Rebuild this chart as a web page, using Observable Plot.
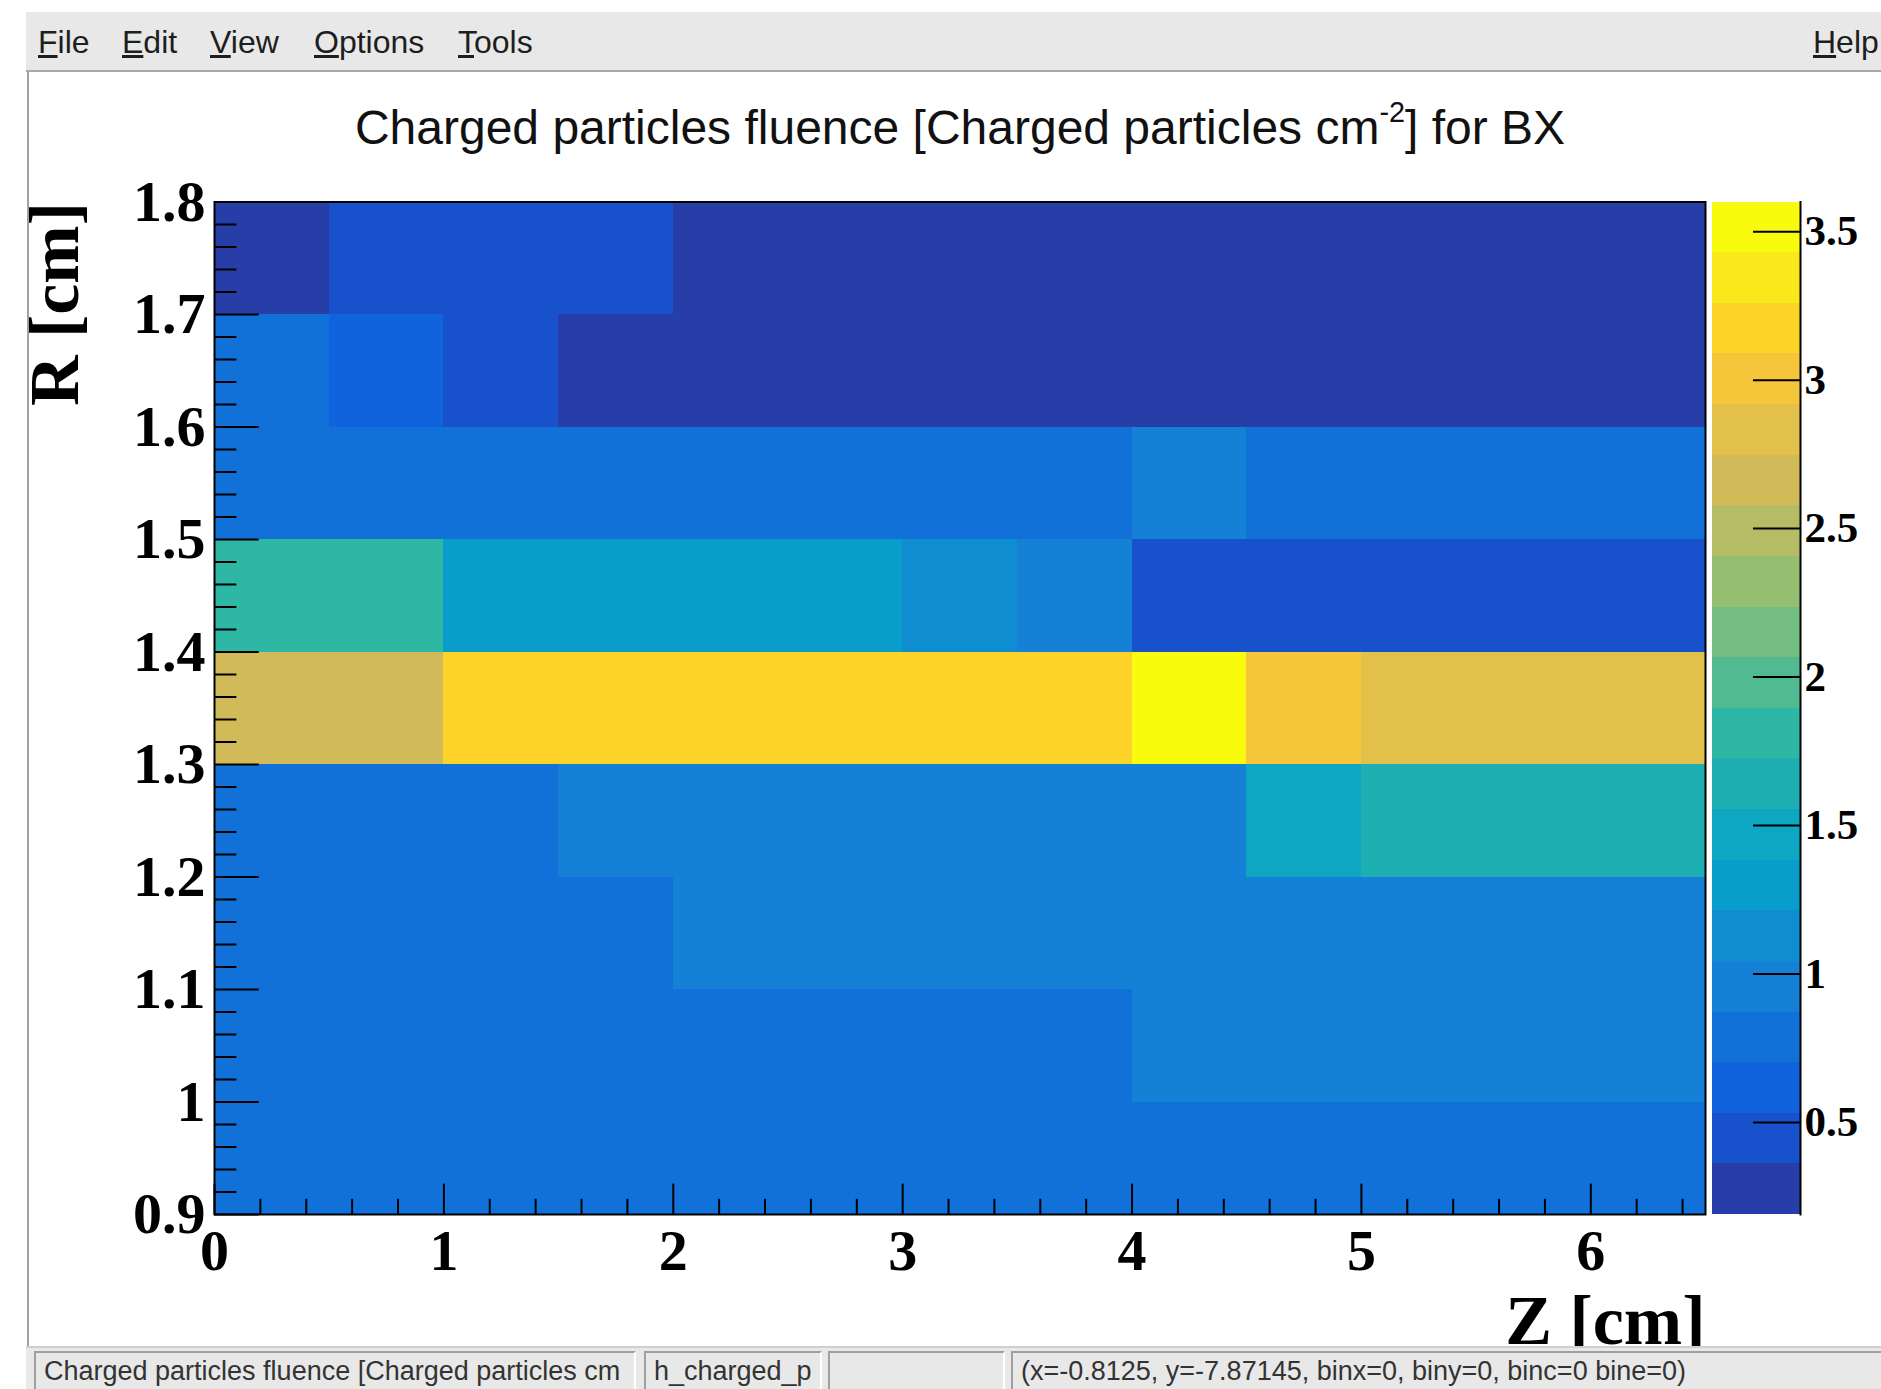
<!DOCTYPE html>
<html>
<head>
<meta charset="utf-8">
<script src="https://cdn.jsdelivr.net/npm/d3@7"></script>
<script src="https://cdn.jsdelivr.net/npm/@observablehq/plot@0.6"></script>
<style>
  body { margin: 0; width: 1881px; height: 1389px; overflow: hidden; position: relative; background: #fff;
         font-family: "Liberation Sans", Arial, sans-serif; }
  .menubar { position: absolute; left: 26px; top: 12px; width: 1855px; height: 58px; background: #e8e8e8;
             border-bottom: 2px solid #a8a8a8; }
  .menu { position: absolute; top: 26px; font-size: 32px; line-height: 32px; color: #1e1e1e; white-space: nowrap; }
  .edge { position: absolute; left: 27px; top: 72px; width: 2px; height: 1274px; background: #a0a0a0; z-index: 3; }
  .title { position: absolute; left: 960px; top: 104px; transform: translateX(-50%); font-size: 48px; line-height: 48px;
           white-space: nowrap; color: #111; z-index: 2; }
  .title sup { font-size: 0.6em; line-height: 0; vertical-align: 0.75em; }
  #plot, #palette { position: absolute; top: 72px; z-index: 1; }
  #plot { left: 0; }
  #palette { left: 1712px; }
  .status { position: absolute; left: 26px; top: 1346px; width: 1855px; height: 43px; background: #e8e8e8;
            border-top: 2px solid #cfcfcf; z-index: 4; }
  .box { position: absolute; top: 3px; height: 40px; box-sizing: border-box; border-top: 2px solid #a0a0a0;
         border-left: 2px solid #a0a0a0; border-right: 2px solid #ffffff; font-size: 27px; line-height: 36px;
         color: #333; white-space: nowrap; overflow: hidden; padding-left: 8px; }
</style>
</head>
<body>
<div class="menubar"></div>
<div class="menu" style="left:38px"><u>F</u>ile</div>
<div class="menu" style="left:122px"><u>E</u>dit</div>
<div class="menu" style="left:210px"><u>V</u>iew</div>
<div class="menu" style="left:314px"><u>O</u>ptions</div>
<div class="menu" style="left:458px"><u>T</u>ools</div>
<div class="menu" style="left:1813px"><u>H</u>elp</div>
<div class="edge"></div>
<div class="title">Charged particles fluence [Charged particles cm<sup>-2</sup>] for BX</div>
<div id="plot"></div>
<div id="palette"></div>
<div class="status">
  <div class="box" style="left:8px;width:602px">Charged particles fluence [Charged particles cm</div>
  <div class="box" style="left:618px;width:178px">h_charged_p</div>
  <div class="box" style="left:802px;width:177px"></div>
  <div class="box" style="left:985px;width:880px">(x=-0.8125, y=-7.87145, binx=0, biny=0, binc=0 bine=0)</div>
</div>
<script>
// ---- Data ----
// Bin edges
const zEdges = [0, 0.5, 1, 1.5, 2, 2.5, 3, 3.5, 4, 4.5, 5, 5.5, 6, 6.5];
const rEdges = [0.9, 1.0, 1.1, 1.2, 1.3, 1.4, 1.5, 1.6, 1.7, 1.8];
// Fluence per R bin (each array: Z bins 0-0.5 ... 6-6.5)
const fluence_R090 = [0.74, 0.75, 0.76, 0.77, 0.78, 0.79, 0.80, 0.81, 0.82, 0.83, 0.84, 0.85, 0.86];
const fluence_R100 = [0.78, 0.79, 0.80, 0.81, 0.82, 0.83, 0.84, 0.86, 0.88, 0.89, 0.90, 0.91, 0.92];
const fluence_R110 = [0.80, 0.82, 0.83, 0.85, 0.88, 0.90, 0.91, 0.92, 0.93, 0.94, 0.95, 0.96, 0.97];
const fluence_R120 = [0.82, 0.84, 0.86, 0.90, 0.92, 0.94, 0.96, 0.98, 1.00, 1.48, 1.62, 1.64, 1.66];
const fluence_R130 = [2.66, 2.70, 3.15, 3.18, 3.20, 3.21, 3.22, 3.24, 3.60, 3.02, 2.88, 2.83, 2.79];
const fluence_R140 = [1.86, 1.83, 1.33, 1.35, 1.34, 1.30, 1.15, 0.97, 0.48, 0.47, 0.45, 0.44, 0.43];
const fluence_R150 = [0.80, 0.82, 0.83, 0.84, 0.85, 0.85, 0.86, 0.86, 0.91, 0.84, 0.80, 0.78, 0.76];
const fluence_R160 = [0.76, 0.62, 0.48, 0.34, 0.31, 0.29, 0.28, 0.27, 0.26, 0.25, 0.24, 0.23, 0.22];
const fluence_R170 = [0.28, 0.45, 0.47, 0.43, 0.30, 0.27, 0.25, 0.24, 0.23, 0.22, 0.21, 0.20, 0.19];
const fluenceRows = [fluence_R090, fluence_R100, fluence_R110, fluence_R120, fluence_R130,
                     fluence_R140, fluence_R150, fluence_R160, fluence_R170];

// Axis ticks and labels
const zMajor = [0, 1, 2, 3, 4, 5, 6];
const zMinor = [0.2, 0.4, 0.6, 0.8, 1.2, 1.4, 1.6, 1.8, 2.2, 2.4, 2.6, 2.8, 3.2, 3.4, 3.6, 3.8,
                4.2, 4.4, 4.6, 4.8, 5.2, 5.4, 5.6, 5.8, 6.2, 6.4];
const rMajor = [0.9, 1, 1.1, 1.2, 1.3, 1.4, 1.5, 1.6, 1.7, 1.8];
const rMinor = rMajor.slice(0, -1).flatMap(v => [0.02, 0.04, 0.06, 0.08].map(d => +(v + d).toFixed(2)));
const paletteTicks = [0.5, 1, 1.5, 2, 2.5, 3, 3.5];
const paletteRange = [0.19, 3.60];   // colour axis extent
const nLevels = 20;                  // number of contour levels

// ---- ROOT kBird palette ----
const birdR = [0.2082, 0.0592, 0.0780, 0.0232, 0.1802, 0.5301, 0.8186, 0.9956, 0.9764];
const birdG = [0.1664, 0.3599, 0.5041, 0.6419, 0.7178, 0.7492, 0.7328, 0.7862, 0.9832];
const birdB = [0.5293, 0.8684, 0.8385, 0.7914, 0.6425, 0.4662, 0.3499, 0.1968, 0.0539];
function bird(t) {
  const s = t * 8, k = Math.min(7, Math.floor(s)), f = s - k;
  const c = a => Math.round(255 * (a[k] + (a[k + 1] - a[k]) * f));
  return d3.rgb(c(birdR), c(birdG), c(birdB)).formatHex();
}
const birdColors = d3.range(nLevels).map(i => bird(Math.floor((i + 0.99) * 255 / nLevels) / 254));
const step = (paletteRange[1] - paletteRange[0]) / nLevels;
const thresholds = d3.range(1, nLevels).map(k => paletteRange[0] + k * step);
const colorOpts = {type: "threshold", domain: thresholds, range: birdColors};

const cells = fluenceRows.flatMap((row, j) => row.map((v, i) => ({
  z1: zEdges[i], z2: zEdges[i + 1], r1: rEdges[j], r2: rEdges[j + 1], v
})));
const levels = d3.range(nLevels).map(i => ({
  lo: paletteRange[0] + i * step, hi: paletteRange[0] + (i + 1) * step, mid: paletteRange[0] + (i + 0.5) * step
}));

// ---- Layout ----
const W = 1881, H = 1274;
const mL = 214, mR = 176, mT = 129.5, mB = 132;
const innerW = W - mL - mR, innerH = H - mT - mB;
const serif = "Liberation Serif, Times New Roman, serif";
const ink = {stroke: "black", strokeWidth: 2};

const main = Plot.plot({
  width: W, height: H,
  marginLeft: mL, marginRight: mR, marginTop: mT, marginBottom: mB,
  style: {background: "transparent", overflow: "visible", fontFamily: serif, fontWeight: "bold"},
  x: {domain: d3.extent(zEdges)},
  y: {domain: d3.extent(rEdges)},
  color: colorOpts,
  marks: [
    Plot.rect(cells, {x1: "z1", x2: "z2", y1: "r1", y2: "r2", fill: "v", shapeRendering: "crispEdges"}),
    Plot.ruleY(rMinor, {...ink, insetRight: innerW - 0.015 * innerW}),
    Plot.ruleY(rMajor, {...ink, insetRight: innerW - 0.03 * innerW}),
    Plot.ruleX(zMinor, {...ink, insetTop: innerH - 0.015 * innerH}),
    Plot.ruleX(zMajor, {...ink, insetTop: innerH - 0.03 * innerH}),
    Plot.frame(ink),
    Plot.axisY(rMajor, {anchor: "left", tickSize: 0, tickPadding: 9, tickFormat: d => String(d), label: null,
                        fontSize: 58, fontWeight: "bold", fontFamily: serif}),
    Plot.axisX(zMajor, {anchor: "bottom", tickSize: 0, tickPadding: 14, tickFormat: d => String(d), label: null,
                        fontSize: 58, fontWeight: "bold", fontFamily: serif}),
    Plot.text(["R [cm]"], {frameAnchor: "top-left", rotate: -90, textAnchor: "end", lineAnchor: "bottom",
                           dx: -137, fontSize: 70, fontWeight: "bold", fontFamily: serif}),
    Plot.text(["Z [cm]"], {frameAnchor: "bottom-right", textAnchor: "end", lineAnchor: "bottom",
                           dy: 129, fontSize: 70, fontWeight: "bold", fontFamily: serif})
  ]
});
document.getElementById("plot").append(main);

const cbW = 169, cbInner = 88;
const palette = Plot.plot({
  width: cbW, height: H,
  marginLeft: 0, marginRight: cbW - cbInner, marginTop: mT, marginBottom: mB,
  style: {background: "transparent", overflow: "visible", fontFamily: serif, fontWeight: "bold"},
  y: {domain: paletteRange},
  color: colorOpts,
  marks: [
    Plot.rect(levels, {y1: "lo", y2: "hi", fill: "mid", shapeRendering: "crispEdges"}),
    Plot.ruleY(paletteTicks, {...ink, insetLeft: cbInner - 47}),
    Plot.frame({...ink, anchor: "right"}),
    Plot.axisY(paletteTicks, {anchor: "right", tickSize: 0, tickPadding: 4, tickFormat: d => String(d), label: null,
                              fontSize: 43, fontWeight: "bold", fontFamily: serif})
  ]
});
document.getElementById("palette").append(palette);
</script>
</body>
</html>
